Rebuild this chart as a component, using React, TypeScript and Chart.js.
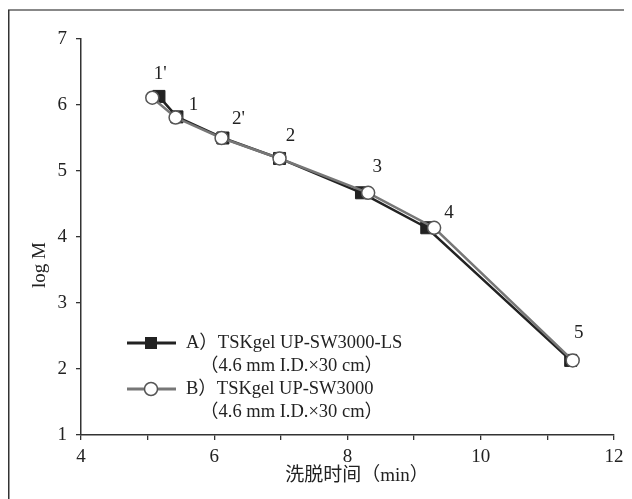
import React, { useEffect, useRef } from 'react';
import { Chart, registerables } from 'chart.js';

Chart.register(...registerables);

// ---- data ----
const timesA = [5.17, 5.44, 6.13, 6.98, 8.21, 9.19, 11.35];
const logMA = [6.13, 5.82, 5.5, 5.19, 4.67, 4.14, 2.13];
const timesB = [5.07, 5.42, 6.11, 6.98, 8.31, 9.3, 11.38];
const logMB = [6.11, 5.81, 5.5, 5.19, 4.67, 4.14, 2.13];
const pointLabels = ["1'", '1', "2'", '2', '3', '4', '5'];
const xLabelValues = [4, 6, 8, 10, 12];
const seriesNames = ['A）TSKgel UP-SW3000-LS', 'B）TSKgel UP-SW3000'];
const seriesSubNames = ['（4.6 mm I.D.×30 cm）', '（4.6 mm I.D.×30 cm）'];
const xTitle = '洗脱时间（min）';
const yTitle = 'log M';

// ---- styling ----
const SERIF = "'Liberation Serif', 'Times New Roman', 'Noto Sans CJK SC', serif";
const TEXT = '#222';
const labelOffsets = [
  [8, -24],
  [18, -13],
  [17, -19],
  [11, -22],
  [9, -26],
  [15, -15],
  [6, -27],
];

const decor = {
  id: 'decor',
  beforeDraw(chart: any) {
    const ctx = chart.ctx;
    ctx.save();
    ctx.fillStyle = '#888';
    ctx.fillRect(0, 1, chart.width, 2);
    ctx.fillStyle = '#333';
    ctx.fillRect(0, 2, 1.5, chart.height);
    ctx.restore();
  },
  afterDatasetsDraw(chart: any) {
    const ctx = chart.ctx;
    const xs = chart.scales.x;
    const ys = chart.scales.y;
    ctx.save();
    ctx.fillStyle = TEXT;
    ctx.font = `19px ${SERIF}`;
    ctx.textAlign = 'center';
    ctx.textBaseline = 'middle';
    pointLabels.forEach((lab, i) => {
      const px = xs.getPixelForValue(timesB[i]) + labelOffsets[i][0];
      const py = ys.getPixelForValue(logMB[i]) + labelOffsets[i][1];
      ctx.fillText(lab, px, py);
    });

    // legend
    const lx0 = 119;
    const lx1 = 168;
    const mx = 143;
    const rowsY = [335, 381];
    ctx.textAlign = 'left';
    ctx.font = `18.5px ${SERIF}`;
    rowsY.forEach((y, i) => {
      ctx.beginPath();
      ctx.moveTo(lx0, y);
      ctx.lineTo(lx1, y);
      ctx.lineWidth = 3;
      ctx.strokeStyle = i === 0 ? '#222' : '#777';
      ctx.stroke();
      if (i === 0) {
        ctx.fillStyle = '#222';
        ctx.fillRect(mx - 6, y - 6, 12, 12);
      } else {
        ctx.beginPath();
        ctx.arc(mx, y, 6.5, 0, Math.PI * 2);
        ctx.fillStyle = '#fff';
        ctx.fill();
        ctx.lineWidth = 1.5;
        ctx.strokeStyle = '#555';
        ctx.stroke();
      }
      ctx.fillStyle = TEXT;
      ctx.fillText(seriesNames[i], 178, y);
      ctx.fillText(seriesSubNames[i], 192, y + 23);
    });

    // axis titles
    ctx.font = `19px ${SERIF}`;
    ctx.textAlign = 'center';
    ctx.save();
    ctx.translate(32, 257);
    ctx.rotate(-Math.PI / 2);
    ctx.fillText(yTitle, 0, 0);
    ctx.restore();
    ctx.font = `19px ${SERIF}`;
    ctx.fillText(xTitle, 349, 468);
    ctx.restore();
  },
};

export default function App() {
  const ref = useRef<HTMLCanvasElement>(null);
  useEffect(() => {
    if (!ref.current) return;
    const chart = new Chart(ref.current, {
      type: 'line',
      data: {
        datasets: [
          {
            label: seriesNames[0],
            data: timesA.map((x, i) => ({ x, y: logMA[i] })),
            borderColor: '#222',
            borderWidth: 2.5,
            pointStyle: 'rect',
            pointRadius: 8.5,
            pointBackgroundColor: '#222',
            pointBorderColor: '#222',
            pointBorderWidth: 1,
            order: 1,
          },
          {
            label: seriesNames[1],
            data: timesB.map((x, i) => ({ x, y: logMB[i] })),
            borderColor: '#777',
            borderWidth: 2.5,
            pointStyle: 'circle',
            pointRadius: 6.5,
            pointBackgroundColor: '#fff',
            pointBorderColor: '#555',
            pointBorderWidth: 1.5,
            order: 0,
          },
        ],
      },
      options: {
        responsive: false,
        animation: false,
        devicePixelRatio: 1,
        layout: { padding: { top: 31, right: 18, left: 0, bottom: 0 } },
        plugins: {
          legend: { display: false },
          tooltip: { enabled: false },
        },
        scales: {
          x: {
            type: 'linear',
            min: 4,
            max: 12,
            afterFit: (s: any) => {
              s.height = 64;
            },
            ticks: {
              stepSize: 1,
              autoSkip: false,
              maxRotation: 0,
              padding: 6,
              color: TEXT,
              font: { family: SERIF, size: 19 },
              callback: (v: any) => (xLabelValues.includes(Number(v)) ? String(v) : ''),
            },
            grid: { drawOnChartArea: false, drawTicks: true, tickLength: 5, color: '#333', lineWidth: 1.3 },
            border: { display: true, color: '#333', width: 1.5 },
          },
          y: {
            type: 'linear',
            min: 1,
            max: 7,
            afterFit: (s: any) => {
              s.width = 73;
            },
            ticks: {
              stepSize: 1,
              padding: 9,
              color: TEXT,
              font: { family: SERIF, size: 19 },
            },
            grid: { drawOnChartArea: false, drawTicks: true, tickLength: 5, color: '#333', lineWidth: 1.3 },
            border: { display: true, color: '#333', width: 1.5 },
          },
        },
      },
      plugins: [decor],
    } as any);
    return () => chart.destroy();
  }, []);
  return (
    <div style={{ width: 624, height: 491 }}>
      <canvas ref={ref} width={624} height={491} style={{ display: 'block' }} />
    </div>
  );
}
